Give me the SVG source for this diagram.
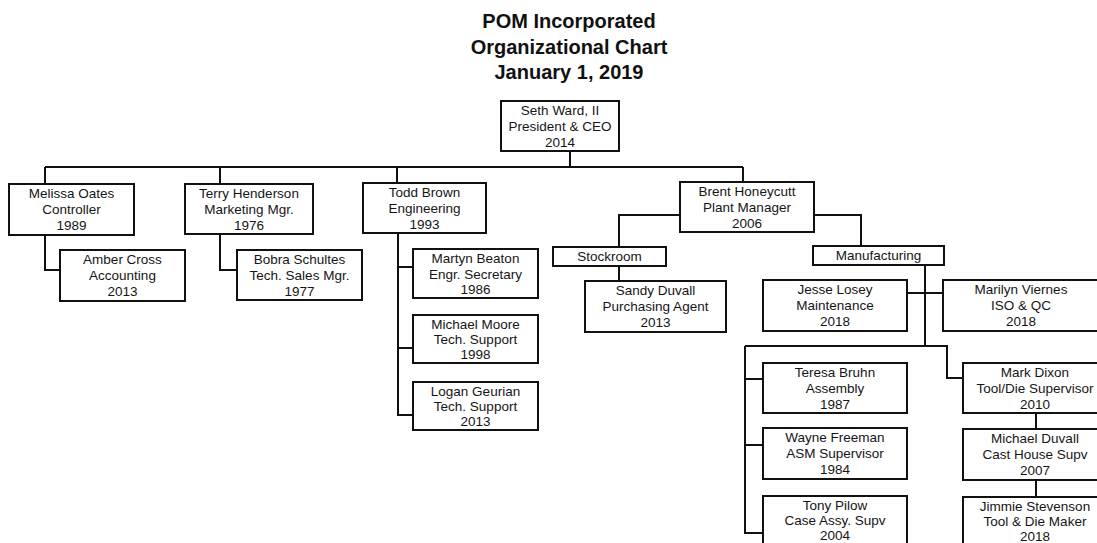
<svg xmlns="http://www.w3.org/2000/svg" width="1097" height="543" viewBox="0 0 1097 543">
<style>
.bg{fill:#fff}
.box{fill:#fff;stroke:#111;stroke-width:2}
.t{font-family:"Liberation Sans",Arial,sans-serif;font-size:13.5px;text-anchor:middle;fill:#151515}
.title{font-family:"Liberation Sans",Arial,sans-serif;font-size:20px;font-weight:bold;text-anchor:middle;fill:#111}
.ln{fill:none;stroke:#111;stroke-width:2}
</style>
<rect class="bg" x="0" y="0" width="1097" height="543"/>
<g id="title">
<text class="title" x="569" y="28">POM Incorporated</text>
<text class="title" x="569" y="54">Organizational Chart</text>
<text class="title" x="569" y="79">January 1, 2019</text>
</g>
<g id="connectors" class="ln">
<path d="M570,151 V167 M45,167 H743 M45,167 V184 M220,167 V184 M397,167 V183 M743,167 V182"/>
<path d="M45,235 V270 H60"/>
<path d="M220,234 V270 H237"/>
<path d="M398,233 V415 H413 M398,267 H413 M398,348 H413"/>
<path d="M680,215 H619 V247 M619,266 V281"/>
<path d="M814,215 H861 V246"/>
<path d="M925,265 V346 M907,293 H943"/>
<path d="M745,346 H947 V378 H963"/>
<path d="M745,346 V533 H763 M745,379 H763 M745,445 H763"/>
<path d="M1036,413 V429 M1036,480 V497"/>
</g>
<g id="ceo"><rect class="box" x="501" y="101" width="118" height="50"/>
<text class="t" x="560" y="115">Seth Ward, II</text><text class="t" x="560" y="131">President &amp; CEO</text><text class="t" x="560" y="147">2014</text></g>
<g id="melissa"><rect class="box" x="9" y="184" width="125" height="51"/>
<text class="t" x="71.5" y="198">Melissa Oates</text><text class="t" x="71.5" y="214">Controller</text><text class="t" x="71.5" y="230">1989</text></g>
<g id="amber"><rect class="box" x="60" y="250" width="125" height="51"/>
<text class="t" x="122.5" y="264">Amber Cross</text><text class="t" x="122.5" y="280">Accounting</text><text class="t" x="122.5" y="296">2013</text></g>
<g id="terry"><rect class="box" x="185" y="184" width="128" height="50"/>
<text class="t" x="249" y="198">Terry Henderson</text><text class="t" x="249" y="214">Marketing Mgr.</text><text class="t" x="249" y="230">1976</text></g>
<g id="bobra"><rect class="box" x="237" y="250" width="125" height="50"/>
<text class="t" x="299.5" y="264">Bobra Schultes</text><text class="t" x="299.5" y="280">Tech. Sales Mgr.</text><text class="t" x="299.5" y="296">1977</text></g>
<g id="todd"><rect class="box" x="363" y="183" width="123" height="50"/>
<text class="t" x="424.5" y="197">Todd Brown</text><text class="t" x="424.5" y="213">Engineering</text><text class="t" x="424.5" y="229">1993</text></g>
<g id="martyn"><rect class="box" x="413" y="249" width="125" height="49"/>
<text class="t" x="475.5" y="263">Martyn Beaton</text><text class="t" x="475.5" y="279">Engr. Secretary</text><text class="t" x="475.5" y="294">1986</text></g>
<g id="michael-moore"><rect class="box" x="413" y="315" width="125" height="48"/>
<text class="t" x="475.5" y="329">Michael Moore</text><text class="t" x="475.5" y="344">Tech. Support</text><text class="t" x="475.5" y="359">1998</text></g>
<g id="logan"><rect class="box" x="413" y="382" width="125" height="48"/>
<text class="t" x="475.5" y="396">Logan Geurian</text><text class="t" x="475.5" y="411">Tech. Support</text><text class="t" x="475.5" y="426">2013</text></g>
<g id="brent"><rect class="box" x="680" y="182" width="134" height="50"/>
<text class="t" x="747" y="196">Brent Honeycutt</text><text class="t" x="747" y="212">Plant Manager</text><text class="t" x="747" y="228">2006</text></g>
<g id="stockroom"><rect class="box" x="553" y="247" width="113" height="19"/>
<text class="t" x="609.5" y="261">Stockroom</text></g>
<g id="sandy"><rect class="box" x="585" y="281" width="141" height="51"/>
<text class="t" x="655.5" y="295">Sandy Duvall</text><text class="t" x="655.5" y="311">Purchasing Agent</text><text class="t" x="655.5" y="327">2013</text></g>
<g id="manufacturing"><rect class="box" x="813" y="246" width="131" height="19"/>
<text class="t" x="878.5" y="260">Manufacturing</text></g>
<g id="jesse"><rect class="box" x="763" y="280" width="144" height="51"/>
<text class="t" x="835" y="294">Jesse Losey</text><text class="t" x="835" y="310">Maintenance</text><text class="t" x="835" y="326">2018</text></g>
<g id="marilyn"><rect class="box" x="943" y="280" width="160" height="51"/>
<text class="t" x="1021" y="294">Marilyn Viernes</text><text class="t" x="1021" y="310">ISO &amp; QC</text><text class="t" x="1021" y="326">2018</text></g>
<g id="teresa"><rect class="box" x="763" y="363" width="144" height="50"/>
<text class="t" x="835" y="377">Teresa Bruhn</text><text class="t" x="835" y="393">Assembly</text><text class="t" x="835" y="409">1987</text></g>
<g id="wayne"><rect class="box" x="763" y="428" width="144" height="51"/>
<text class="t" x="835" y="442">Wayne Freeman</text><text class="t" x="835" y="458">ASM Supervisor</text><text class="t" x="835" y="474">1984</text></g>
<g id="tony"><rect class="box" x="763" y="496" width="144" height="60"/>
<text class="t" x="835" y="510">Tony Pilow</text><text class="t" x="835" y="525">Case Assy. Supv</text><text class="t" x="835" y="540">2004</text></g>
<g id="mark"><rect class="box" x="963" y="363" width="144" height="50"/>
<text class="t" x="1035" y="377">Mark Dixon</text><text class="t" x="1035" y="393">Tool/Die Supervisor</text><text class="t" x="1035" y="409">2010</text></g>
<g id="michael-duvall"><rect class="box" x="963" y="429" width="144" height="51"/>
<text class="t" x="1035" y="443">Michael Duvall</text><text class="t" x="1035" y="459">Cast House Supv</text><text class="t" x="1035" y="475">2007</text></g>
<g id="jimmie"><rect class="box" x="963" y="497" width="144" height="60"/>
<text class="t" x="1035" y="511">Jimmie Stevenson</text><text class="t" x="1035" y="526">Tool &amp; Die Maker</text><text class="t" x="1035" y="541">2018</text></g>
</svg>
